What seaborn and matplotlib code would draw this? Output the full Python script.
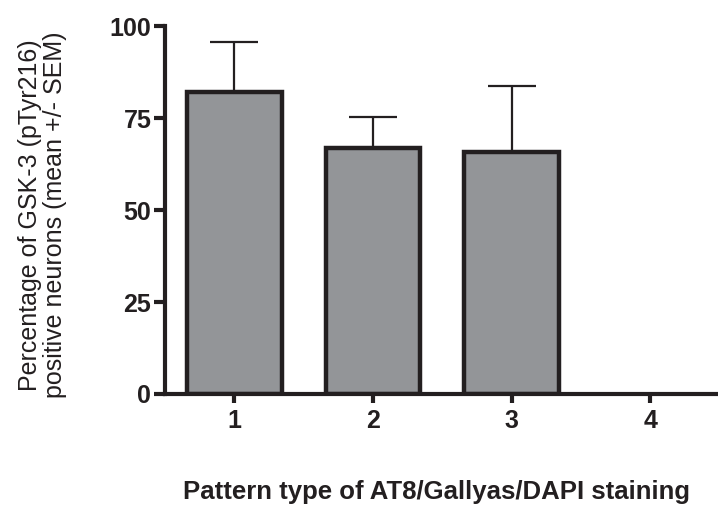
import matplotlib
matplotlib.use("Agg")
import matplotlib.pyplot as plt
import numpy as np
import pandas as pd
import seaborn as sns

# pattern types and GSK-3 (pTyr216) positive neuron percentages
pattern = ["1", "2", "3", "4"]
mean_pct = [82.0, 66.8, 65.8, 0.0]
sem_pct = [13.8, 8.6, 17.9, 0.0]


def main() -> None:
    sns.set_style("ticks")
    plt.rcParams["font.family"] = ["Liberation Sans", "DejaVu Sans"]

    df = pd.DataFrame({"pattern": pattern, "mean": mean_pct, "sem": sem_pct})

    fig = plt.figure(figsize=(7.18, 5.13), dpi=100)
    ax = fig.add_axes([0.230, 0.232, 0.772, 0.717])

    # error bars (upper only), drawn underneath the bars
    ax.errorbar(
        x=np.arange(len(df)),
        y=df["mean"],
        yerr=[np.zeros(len(df)), df["sem"]],
        fmt="none",
        ecolor="#231f20",
        elinewidth=1.6,
        capsize=17,
        capthick=1.6,
        zorder=1,
    )
    sns.barplot(
        data=df, x="pattern", y="mean", ax=ax,
        color="#939598", edgecolor="#231f20", linewidth=3.2,
        width=0.68, saturation=1, errorbar=None, zorder=2,
    )
    # empty bar (pattern 4) should leave no outline on the baseline
    for p in ax.patches:
        if p.get_height() == 0:
            p.set_linewidth(0)

    ax.set_xlim(-0.5, 3.5)
    ax.set_ylim(0, 100)
    ax.set_yticks([0, 25, 50, 75, 100])
    sns.despine(ax=ax)
    for side in ("left", "bottom"):
        ax.spines[side].set_linewidth(3)
        ax.spines[side].set_color("#231f20")
    ax.tick_params(axis="y", width=3, length=8, color="#231f20",
                   labelsize=18, labelcolor="#231f20", pad=2)
    ax.tick_params(axis="x", width=3, length=6.5, color="#231f20",
                   labelsize=18, labelcolor="#231f20", pad=4)
    for lab in ax.get_xticklabels() + ax.get_yticklabels():
        lab.set_fontweight("bold")

    ax.set_xlabel("Pattern type of AT8/Gallyas/DAPI staining",
                  fontsize=18.5, fontweight="bold", color="#231f20")
    ax.xaxis.set_label_coords(0.489, -0.235)
    ax.set_ylabel("Percentage of GSK-3 (pTyr216)\npositive neurons (mean +/- SEM)",
                  fontsize=18, color="#231f20", linespacing=1.08)
    ax.yaxis.set_label_coords(-0.177, 0.486)

    fig.savefig("out.png", dpi=100)


if __name__ == "__main__":
    main()
